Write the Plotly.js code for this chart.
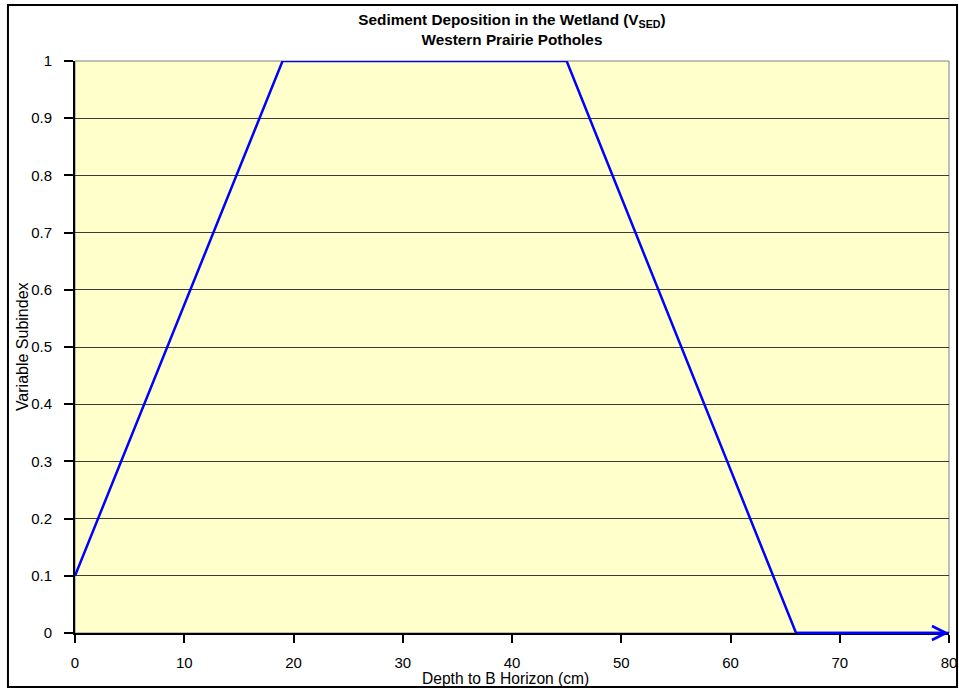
<!DOCTYPE html>
<html>
<head>
<meta charset="utf-8">
<script src="https://cdn.plot.ly/plotly-3.0.1.min.js"></script>
<style>body{margin:0;padding:0;background:#fff;} #chart{width:959px;height:689px;}</style>
</head>
<body>
<div id="chart"></div>
<script>
// Data
var depthCm = [0, 19, 45, 66, 80];
var subindex = [0.1, 1, 1, 0, 0];
var xTicks = [0, 10, 20, 30, 40, 50, 60, 70, 80];
var yTicks = [0, 0.1, 0.2, 0.3, 0.4, 0.5, 0.6, 0.7, 0.8, 0.9, 1];
var yTickText = ['0', '0.1', '0.2', '0.3', '0.4', '0.5', '0.6', '0.7', '0.8', '0.9', '1'];
var chartTitle = '<b>Sediment Deposition in the Wetland (V<sub>SED</sub>)</b><br><b>Western Prairie Potholes</b>';
var xTitle = 'Depth to B Horizon (cm)';
var yTitle = 'Variable Subindex';

var n = depthCm.length;
var trace = {
  x: depthCm,
  y: subindex,
  type: 'scatter',
  mode: 'lines',
  line: {color: '#0000FF', width: 2.5},
  hoverinfo: 'x+y',
  showlegend: false,
  cliponaxis: false
};

var layout = {
  width: 959,
  height: 689,
  margin: {l: 75, r: 10, t: 61, b: 56},
  paper_bgcolor: '#FFFFFF',
  plot_bgcolor: '#FFFFCC',
  font: {family: 'Arial, "Liberation Sans", sans-serif', size: 15, color: '#000000'},
  title: {
    text: chartTitle,
    font: {family: 'Arial, "Liberation Sans", sans-serif', size: 15.3, color: '#000000'},
    x: 0.5, xanchor: 'center', xref: 'paper',
    y: 0.964, yanchor: 'top'
  },
  xaxis: {
    range: [0, 80],
    tickvals: xTicks,
    ticks: 'outside', ticklen: 8, tickwidth: 2, tickcolor: '#000',
    showline: true, linecolor: '#000', linewidth: 2,
    showgrid: false, zeroline: false,
    ticklabelstandoff: 7
  },
  yaxis: {
    range: [0, 1],
    tickvals: yTicks,
    ticktext: yTickText,
    ticks: 'outside', ticklen: 9, tickwidth: 2, tickcolor: '#000',
    showline: true, linecolor: '#000', linewidth: 2,
    showgrid: true, gridcolor: '#3a3a3a', gridwidth: 1,
    zeroline: false,
    ticklabelstandoff: 9
  },
  shapes: [
    {type: 'rect', xref: 'paper', yref: 'paper', x0: 0, x1: 1, y0: 0, y1: 1,
     line: {color: '#808080', width: 1}, layer: 'below'},
    {type: 'rect', xref: 'paper', yref: 'paper',
     x0: -0.0767, x1: 1.0092, y0: -0.0944, y1: 1.0979,
     line: {color: '#000000', width: 2}, fillcolor: 'rgba(0,0,0,0)', layer: 'above'}
  ],
  annotations: [
    {x: depthCm[n - 1], y: subindex[n - 1], xref: 'x', yref: 'y',
     ax: depthCm[n - 2], ay: subindex[n - 2], axref: 'x', ayref: 'y',
     showarrow: true, arrowhead: 5, arrowsize: 1.1, arrowwidth: 2.5,
     arrowcolor: '#0000FF', standoff: 0, startstandoff: 0, text: ''},
    {text: xTitle, xref: 'paper', yref: 'paper', x: 0.493, y: -0.0804,
     xanchor: 'center', yanchor: 'middle', showarrow: false, font: {size: 15.6}},
    {text: yTitle, xref: 'paper', yref: 'paper', x: -0.0605, y: 0.5, textangle: -90,
     xanchor: 'center', yanchor: 'middle', showarrow: false, font: {size: 16}}
  ]
};

Plotly.newPlot('chart', [trace], layout, {displayModeBar: false, staticPlot: true});
</script>
</body>
</html>
